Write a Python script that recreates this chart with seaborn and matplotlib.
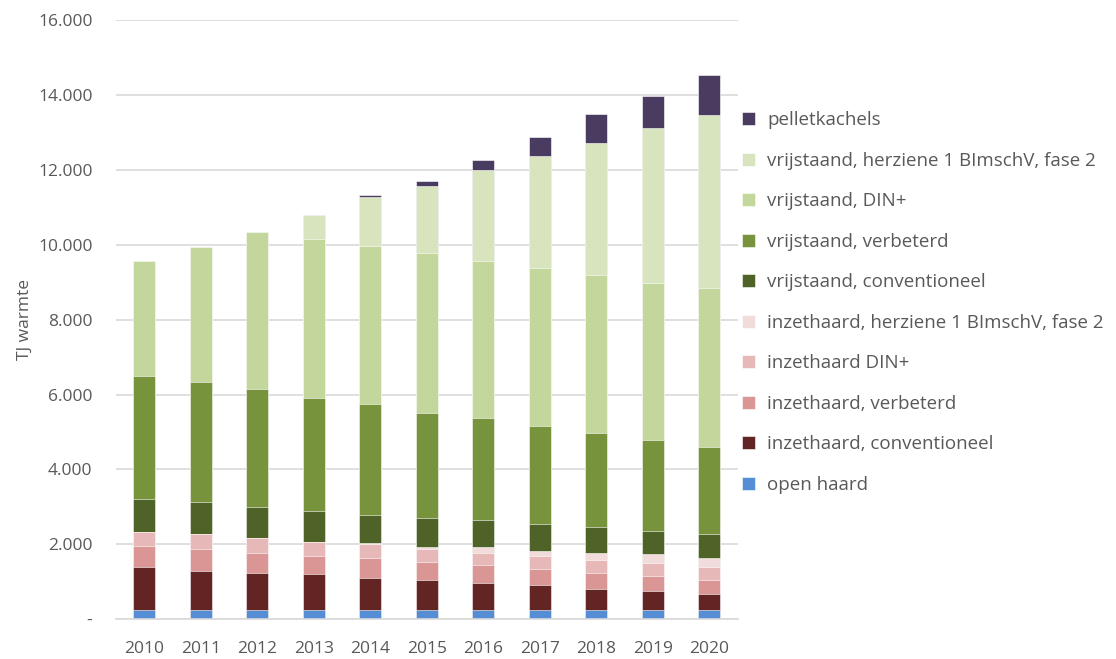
import numpy as np
import pandas as pd
import matplotlib
matplotlib.use("Agg")
import matplotlib.pyplot as plt
from matplotlib.ticker import FuncFormatter, FixedLocator
import seaborn as sns

years = [str(y) for y in range(2010, 2021)]

# TJ warmte per type, bottom to top
open_haard = [250, 250, 250, 250, 250, 250, 250, 250, 250, 250, 250]
inzet_conv = [1150, 1045, 990, 955, 860, 800, 710, 665, 555, 510, 425]
inzet_verb = [560, 590, 535, 490, 535, 480, 490, 435, 435, 390, 375]
inzet_din = [380, 395, 400, 375, 365, 355, 330, 340, 340, 340, 345]
inzet_herz = [0, 0, 0, 0, 27, 45, 150, 140, 195, 250, 240]
vrij_conv = [880, 860, 830, 830, 755, 780, 730, 715, 685, 620, 635]
vrij_verb = [3280, 3200, 3140, 3000, 2955, 2795, 2705, 2625, 2510, 2420, 2325]
vrij_din = [3080, 3590, 4210, 4250, 4225, 4280, 4210, 4220, 4220, 4210, 4260]
vrij_herz = [0, 0, 0, 640, 1310, 1780, 2430, 2990, 3530, 4120, 4600]
pellet = [0, 0, 0, 0, 45, 140, 250, 500, 785, 875, 1070]

labels = [
    "open haard",
    "inzethaard, conventioneel",
    "inzethaard, verbeterd",
    "inzethaard DIN+",
    "inzethaard, herziene 1 BImschV, fase 2",
    "vrijstaand, conventioneel",
    "vrijstaand, verbeterd",
    "vrijstaand, DIN+",
    "vrijstaand, herziene 1 BImschV, fase 2",
    "pelletkachels",
]
colors = ["#558ED5", "#632523", "#D99694", "#E6B9B8", "#F2DCDB",
          "#4F6228", "#77933C", "#C3D69B", "#D7E4BD", "#4A3B60"]

series = [open_haard, inzet_conv, inzet_verb, inzet_din, inzet_herz,
          vrij_conv, vrij_verb, vrij_din, vrij_herz, pellet]

df = pd.DataFrame(dict(zip(labels, series)), index=years)
cum = df.cumsum(axis=1)

sns.set_style("white")
plt.rcParams["font.family"] = ["Open Sans", "DejaVu Sans"]
txt = "#595959"
fs = 12.5

fig = plt.figure(figsize=(11.16, 6.59), dpi=100)
ax = fig.add_axes([0.104, 0.0604, 0.557, 0.909])

# stacked bars: draw cumulative totals from top layer down
for lab, col in zip(labels[::-1], colors[::-1]):
    sns.barplot(x=years, y=cum[lab].values, color=col, width=0.39,
                label=lab, ax=ax, saturation=1, zorder=3,
                edgecolor="white", linewidth=0.4)

ax.set_ylim(0, 16000)
ax.set_xlim(-0.5, 10.5)
ax.set_yticks(np.arange(0, 16001, 2000))
ax.yaxis.set_major_formatter(FuncFormatter(
    lambda v, p: "-" if v == 0 else f"{int(v):,}".replace(",", ".")))
ax.grid(axis="y", color="#D9D9D9", linewidth=1.2, zorder=0)
ax.set_axisbelow(True)
for s in ["top", "right", "left"]:
    ax.spines[s].set_visible(False)
ax.spines["bottom"].set_color("#D9D9D9")
ax.spines["bottom"].set_linewidth(1.2)
ax.spines["bottom"].set_zorder(4)

ax.tick_params(axis="y", length=0, labelsize=fs, labelcolor=txt, pad=17)
ax.tick_params(axis="x", which="major", length=0, labelsize=fs, labelcolor=txt, pad=16)
ax.xaxis.set_minor_locator(FixedLocator(np.arange(-0.5, 11, 1)))
ax.tick_params(axis="x", which="minor", length=8, width=1.2, color="#D9D9D9")

ax.set_xlabel("")
ax.set_ylabel("TJ warmte", fontsize=fs, color=txt)
ax.yaxis.set_label_coords(-0.134, 0.5)

ax.legend(loc="center left", bbox_to_anchor=(0.650, 0.541),
          bbox_transform=fig.transFigure, frameon=False, fontsize=13.5,
          labelcolor=txt, handlelength=0.68, handleheight=0.68,
          handletextpad=0.65, labelspacing=1.2)

fig.savefig("out.png", dpi=100)
